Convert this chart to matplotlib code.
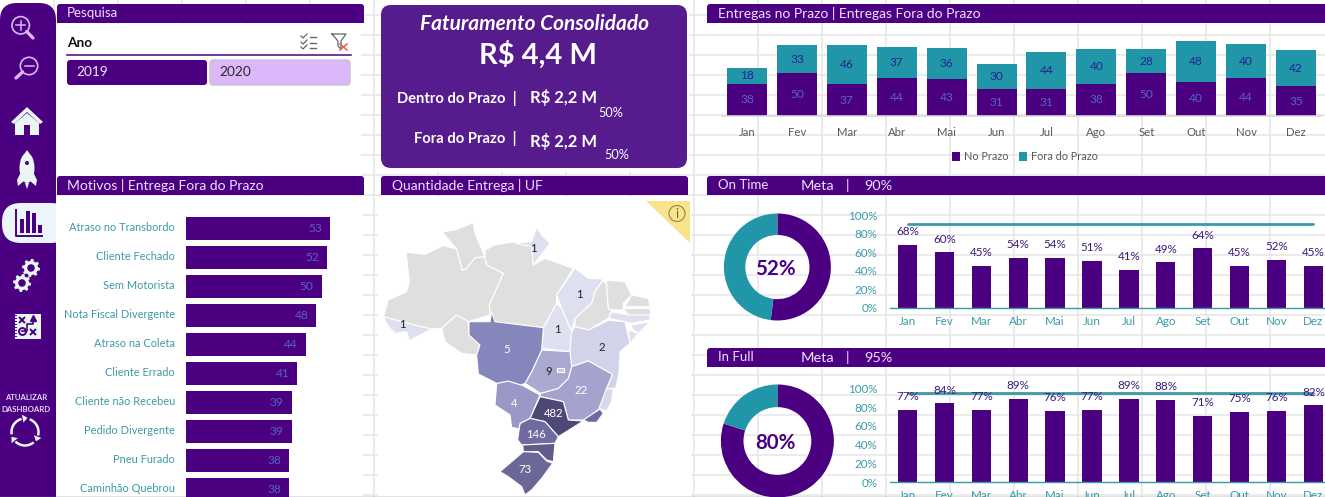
import numpy as np
import matplotlib
matplotlib.use("Agg")
import matplotlib.pyplot as plt
from matplotlib.patches import Arc, Circle, Ellipse, FancyBboxPatch, Polygon, Rectangle
from matplotlib.lines import Line2D

plt.rcParams["font.family"] = ["Lato", "DejaVu Sans"]

# ---- data -------------------------------------------------------------
months = ["Jan", "Fev", "Mar", "Abr", "Mai", "Jun", "Jul", "Ago", "Set", "Out", "Nov", "Dez"]
no_prazo = [38, 50, 37, 44, 43, 31, 31, 38, 50, 40, 44, 35]
fora_prazo = [18, 33, 46, 37, 36, 30, 44, 40, 28, 48, 40, 42]

motivos = ["Atraso no Transbordo", "Cliente Fechado", "Sem Motorista", "Nota Fiscal Divergente",
           "Atraso na Coleta", "Cliente Errado", "Cliente não Recebeu", "Pedido Divergente",
           "Pneu Furado", "Caminhão Quebrou"]
motivos_qtd = [53, 52, 50, 48, 44, 41, 39, 39, 38, 38]
motivos_pct = ["11,99%", "11,76%", "11,31%", "10,86%", "9,95%", "9,28%", "8,82%", "8,82%", "8,60%", "8,60%"]

on_time = [68, 60, 45, 54, 54, 51, 41, 49, 64, 45, 52, 45]
on_time_meta = 90
on_time_total = 52
in_full = [77, 84, 77, 89, 76, 77, 89, 88, 71, 75, 76, 82]
in_full_meta = 95
in_full_total = 80
pct_ticks = [0, 20, 40, 60, 80, 100]

# Simplified state outlines on a 960x966 drawing grid: colour, label, label position, shape
GREY = "#DFDFDF"
states = [
    ("#DEDFEF", "1", (82, 448), [(25, 425), (100, 445), (170, 462), (103, 497), (95, 470), (60, 475), (40, 455)]),
    (GREY, "", None, [(25, 425), (40, 375), (95, 350), (103, 320), (93, 232), (150, 238), (205, 212), (245, 222),
                      (262, 285), (275, 280), (300, 248), (330, 245), (335, 270), (385, 295), (343, 390), (345, 420),
                      (280, 440), (245, 420), (200, 460), (170, 462), (100, 445)]),
    (GREY, "", None, [(205, 170), (240, 165), (295, 143), (300, 175), (330, 245), (300, 248), (275, 280), (262, 285),
                      (245, 222), (205, 175)]),
    (GREY, "", None, [(200, 460), (245, 420), (280, 440), (282, 480), (315, 510), (305, 540), (260, 535), (210, 500)]),
    (GREY, "", None, [(330, 245), (330, 225), (360, 210), (420, 200), (470, 215), (475, 270), (510, 250), (595, 280),
                      (545, 360), (545, 385), (505, 458), (360, 440), (345, 420), (343, 390), (385, 295), (335, 270)]),
    ("#DEDFEF", "1", (474, 220), [(420, 205), (470, 200), (485, 157), (500, 180), (525, 205), (475, 270), (470, 215)]),
    ("#DEDFEF", "1", (613, 358), [(600, 280), (640, 310), (685, 312), (660, 350), (650, 385), (600, 430), (590, 470),
                                  (560, 400), (545, 360)]),
    ("#E0E1F0", "1", (548, 463), [(545, 385), (560, 400), (590, 470), (585, 530), (500, 520), (505, 458)]),
    (GREY, "", None, [(685, 315), (695, 330), (700, 400), (710, 405), (700, 430), (640, 465), (600, 455), (600, 430),
                      (650, 385), (660, 350)]),
    (GREY, "", None, [(695, 315), (750, 320), (770, 360), (745, 385), (745, 405), (710, 405), (700, 400), (695, 330)]),
    (GREY, "", None, [(770, 360), (820, 370), (825, 395), (750, 395)]),
    (GREY, "", None, [(745, 400), (825, 400), (825, 420), (760, 420)]),
    ("#DEDFEF", "", None, [(710, 410), (760, 420), (825, 420), (825, 435), (770, 445), (750, 440), (700, 430)]),
    ("#DEDFEF", "", None, [(770, 450), (825, 440), (790, 475), (770, 460)]),
    (GREY, "", None, [(760, 465), (790, 475), (765, 505)]),
    ("#D2D3E8", "2", (680, 517), [(590, 470), (600, 455), (640, 465), (700, 436), (750, 440), (765, 505), (735, 530),
                                  (732, 595), (722, 640), (695, 640), (712, 598), (640, 558), (590, 575), (585, 530)]),
    ("#A3A3CE", "22", (618, 647), [(590, 575), (640, 558), (712, 598), (695, 640), (675, 700), (630, 735), (580, 735),
                                   (565, 680), (495, 665), (497, 655), (550, 640), (580, 610)]),
    ("#A9A9D2", "9", (520, 590), [(500, 525), (585, 530), (590, 575), (580, 610), (550, 640), (497, 655), (450, 625),
                                  (470, 590)]),
    ("#C9CAE4", "", None, [(545, 580), (568, 580), (568, 592), (545, 592)]),
    ("#D8D9EC", "", None, [(695, 640), (715, 642), (710, 680), (695, 708), (672, 700)]),
    ("#6B6BA3", "", None, [(625, 735), (675, 702), (685, 715), (665, 742), (640, 742)]),
    ("#4E4877", "482", (537, 715), [(495, 665), (565, 680), (580, 735), (625, 738), (550, 785), (510, 740), (465, 730)]),
    ("#6F6BA0", "146", (482, 778), [(465, 730), (510, 740), (550, 785), (540, 805), (440, 810), (428, 795), (435, 745)]),
    ("#5F5B8B", "", None, [(443, 810), (540, 805), (535, 860), (515, 855), (490, 830), (445, 830)]),
    ("#6B6897", "73", (451, 883), [(445, 830), (490, 832), (515, 858), (533, 865), (500, 910), (470, 945), (450, 960),
                                   (440, 935), (400, 905), (375, 890)]),
    ("#9A98C6", "4", (418, 685), [(365, 625), (400, 618), (440, 630), (495, 660), (465, 730), (435, 745), (432, 762),
                                  (410, 757), (405, 720), (360, 690)]),
    ("#8586BC", "5", (395, 523), [(282, 440), (345, 440), (350, 410), (360, 440), (505, 458), (500, 525), (470, 590),
                                  (450, 625), (438, 630), (400, 618), (365, 625), (310, 597), (305, 540), (315, 510),
                                  (282, 480)]),
]
dark_labels = {"1", "2", "9"}

# ---- palette ----------------------------------------------------------
INDIGO = "#4B0082"
CARD = "#561B8C"
TEAL = "#2196A9"
TEAL_TXT = "#3C9AA6"
GRID = "#E5E5E5"
ICON = "#EAF6F4"
LILAC = "#DCB8FB"
HEAD_TXT = "#F3DFFF"

W, H = 1325, 497
fig = plt.figure(figsize=(W / 100, H / 100), dpi=100, facecolor="white")
base = fig.add_axes([0, 0, 1, 1], zorder=0)
base.set_xlim(0, W)
base.set_ylim(H, 0)
base.axis("off")


def px_axes(x0, y0, x1, y1, z=2):
    """Axes placed by pixel box, measured from the top-left corner."""
    ax = fig.add_axes([x0 / W, 1 - y1 / H, (x1 - x0) / W, (y1 - y0) / H], zorder=z)
    ax.patch.set_alpha(0)
    return ax


def txt(x, y, s, size, color="white", ha="left", weight="normal", style="normal", ax=base, z=5):
    return ax.text(x, y, s, fontsize=size, color=color, ha=ha, va="center",
                   fontweight=weight, fontstyle=style, zorder=z)


def rbox(x0, y0, x1, y1, r, fc, ec="none", lw=0, z=3):
    base.add_patch(FancyBboxPatch((x0 + r, y0 + r), x1 - x0 - 2 * r, y1 - y0 - 2 * r,
                                  boxstyle=f"round,pad={r},rounding_size={r}",
                                  fc=fc, ec=ec, lw=lw, zorder=z))


def header(x0, y0, x1, y1, parts, size=9.5):
    rbox(x0, y0, x1, y1, 3, INDIGO)
    base.add_patch(Rectangle((x0, y0 + 8), x1 - x0, y1 - y0 - 8, fc=INDIGO, ec="none", zorder=3))
    for x, s in parts:
        txt(x, (y0 + y1) / 2 - 0.5, s, size, HEAD_TXT)


# ---- worksheet cell lines ---------------------------------------------
for gx in range(54, W, 64):
    base.plot([gx, gx], [0, H], color=GRID, lw=1.1, zorder=0)
for gy in range(15, H, 20):
    base.plot([0, W], [gy, gy], color=GRID, lw=1.1, zorder=0)

# White backing behind the slicer, the reason list and the map
for x0, y0, x1, y1 in [(56, 24, 361, 176), (56, 196, 363, 497), (378, 197, 691, 497), (381, 0, 689, 172)]:
    base.add_patch(Rectangle((x0, y0), x1 - x0, y1 - y0, fc="white", ec="none", zorder=1))

# ---- navigation bar ---------------------------------------------------
rbox(0, 3, 56, 530, 17, INDIGO, z=3)

for cx, cy, hx, hy, plus in [(20.7, 25.3, 33, 38, True), (29, 66, 16, 78, False)]:
    base.add_patch(Circle((cx, cy), 8.7, fc="none", ec="#D9B9F2", lw=1.2, zorder=4))
    ux, uy = (hx - cx) / np.hypot(hx - cx, hy - cy), (hy - cy) / np.hypot(hx - cx, hy - cy)
    base.plot([cx + ux * 8.7, hx], [cy + uy * 8.7, hy], color="#D9B9F2", lw=2.4, solid_capstyle="round", zorder=4)
    base.plot([cx - 4.5, cx + 4.5], [cy, cy], color="#D9B9F2", lw=1.1, zorder=4)
    if plus:
        base.plot([cx, cx], [cy - 4.5, cy + 4.5], color="#D9B9F2", lw=1.1, zorder=4)

# home
base.add_patch(Polygon([(11, 122), (27, 107), (43, 122), (40, 124), (27, 112), (14, 124)], fc=ICON, zorder=4))
base.add_patch(Polygon([(15, 123), (27, 113), (39, 123), (39, 135), (30, 135), (30, 125), (24, 125), (24, 135), (15, 135)],
                       fc=ICON, zorder=4))
# rocket
base.add_patch(Ellipse((27, 168), 15, 30, fc=ICON, zorder=4))
base.add_patch(Polygon([(23, 156), (27, 150), (31, 156)], fc=ICON, zorder=4))
base.add_patch(Polygon([(21, 172), (17, 180), (18, 186), (24, 181)], fc=ICON, zorder=4))
base.add_patch(Polygon([(33, 172), (37, 180), (36, 186), (30, 181)], fc=ICON, zorder=4))
base.add_patch(Polygon([(25, 183), (29, 183), (27, 189)], fc=ICON, zorder=4))
base.add_patch(Circle((27, 163), 2, fc=INDIGO, zorder=5))
# selected tab with bar icon
rbox(2, 203, 70, 243, 19, "#EAF6FA", z=4)
base.add_patch(Rectangle((56, 200), 20, 50, fc="white", ec="none", zorder=4))
base.plot([15.5, 15.5, 42], [210, 236, 236], color=INDIGO, lw=1.4, zorder=5)
for bx, bt in zip([19.5, 25.5, 31.5, 37.5], [219, 211, 213, 225]):
    base.add_patch(Rectangle((bx, bt), 4, 233 - bt, fc=INDIGO, zorder=5))


def gear(cx, cy, r):
    ang = np.linspace(0, 2 * np.pi, 65)[:-1]
    rad = np.where((np.arange(64) // 4) % 2 == 0, r, r * 0.78)
    base.add_patch(Polygon(np.c_[cx + rad * np.cos(ang), cy + rad * np.sin(ang)], fc=ICON, zorder=4))
    base.add_patch(Circle((cx, cy), r * 0.42, fc=INDIGO, zorder=5))


gear(31, 268, 9)
gear(22, 283, 9)

# calculator-style sheet icon
base.add_patch(Rectangle((15, 314), 26, 25, fc=ICON, zorder=4))
for y in range(315, 339, 3):
    base.plot([14, 16], [y, y], color=INDIGO, lw=0.7, zorder=5)
base.plot([22, 27, 27, 33, 33], [331, 331, 324, 324, 319], color=INDIGO, lw=1.2, zorder=5)
for mx, my, mk in [(22, 320, "x"), (33, 332, "x"), (22, 331, "o")]:
    base.plot([mx], [my], marker=mk, ms=5, mfc="none", mec=INDIGO, mew=1.4, zorder=5)
base.plot([33], [318], marker="^", ms=4, color=INDIGO, zorder=5)

txt(26, 398, "ATUALIZAR", 5.6, "#E7D6F5", ha="center", weight="bold")
txt(26, 409, "DASHBOARD", 5.6, "#E7D6F5", ha="center", weight="bold")
for start in (-70, 50, 170):
    base.add_patch(Arc((25, 432), 27, 27, theta1=start, theta2=start + 85, color=ICON, lw=1.8, zorder=4))
    a = np.deg2rad(start + 90)
    hx, hy = 25 + 13.5 * np.cos(a), 432 + 13.5 * np.sin(a)
    t = np.array([-np.sin(a), np.cos(a)])
    n = np.array([np.cos(a), np.sin(a)])
    base.add_patch(Polygon([(hx + 5 * t[0], hy + 5 * t[1]),
                            (hx + 4 * n[0], hy + 4 * n[1]),
                            (hx - 4 * n[0], hy - 4 * n[1])], fc=ICON, zorder=4))

# ---- slicer -----------------------------------------------------------
header(57, 4, 364, 23, [(67, "Pesquisa")])
txt(67, 43, "Ano", 9.8, "#111111", weight="bold")
base.plot([67, 351], [55, 55], color=INDIGO, lw=1.1, zorder=3)
rbox(67, 60, 207, 85, 3, INDIGO)
rbox(210, 60, 350, 85, 3, LILAC, ec="#C9C4CF", lw=1)
txt(76, 72.5, "2019", 9.8, "#F3E8FC")
txt(219, 72.5, "2020", 9.8, "#2A2A2A")
for y in (37, 43, 48):
    base.plot([310, 316], [y, y], color="#666666", lw=1, zorder=3)
    base.plot([301, 303, 307], [y - 1, y + 1, y - 3], color="#666666", lw=0.9, zorder=3)
base.plot([332, 346, 341, 341, 338, 338, 332], [34, 34, 41, 49, 46, 41, 34], color="#666666", lw=0.9, zorder=3)
base.plot([340, 347], [44, 50], color="#E0604C", lw=1.1, zorder=3)
base.plot([347, 340], [44, 50], color="#E0604C", lw=1.1, zorder=3)

# ---- reasons for late delivery -----------------------------------------
header(57, 176, 364, 195, [(67, "Motivos | Entrega Fora do Prazo")], size=10)
PX_PER_UNIT = 2.717
mot = px_axes(186, 214, 363, 497)
mot.barh(range(len(motivos)), motivos_qtd, height=0.79, color=INDIGO)
mot.set_xlim(0, 177 / PX_PER_UNIT)
mot.set_ylim(-0.5 + 283 / 29, -0.5)
mot.axis("off")
for i, (name, qtd, pct) in enumerate(zip(motivos, motivos_qtd, motivos_pct)):
    yy = 227.5 + 29 * i
    txt(175, yy, name, 7.9, TEAL_TXT, ha="right")
    txt(194, yy + 0.5, pct, 8.6, "white", z=6)
    mot.text(qtd - 3, i, str(qtd), fontsize=8.6, color="#5464C0", ha="right", va="center", zorder=6, clip_on=True)

# ---- revenue card -----------------------------------------------------
rbox(381, 5, 687, 168, 10, CARD)
txt(534, 24, "Faturamento Consolidado", 15, "white", ha="center", weight="bold", style="italic")
txt(538, 55, "R$ 4,4 M", 21, "white", ha="center", weight="bold")
txt(517, 99, "Dentro do Prazo  |", 10.6, "white", ha="right", weight="bold")
txt(530, 97, "R$ 2,2 M", 12, "white", weight="bold")
txt(598, 113, "50%", 9.2, "white")
txt(517, 138, "Fora do Prazo  |", 10.6, "white", ha="right", weight="bold")
txt(530, 142, "R$ 2,2 M", 12, "white", weight="bold")
txt(604, 155, "50%", 9.2, "white")

# ---- map --------------------------------------------------------------
header(381, 176, 688, 195, [(392, "Quantidade Entrega | UF")], size=10)
for color, label, pos, shape in states:
    pts = [(375 + x / 3, 175 + y / 3) for x, y in shape]
    base.add_patch(Polygon(pts, closed=True, fc=color, ec="white", lw=0.8, joinstyle="round", zorder=2))
    if label:
        tc = "#222222" if label in dark_labels else "white"
        txt(375 + pos[0] / 3, 175 + pos[1] / 3, label, 8.2, tc, ha="center", z=4)
base.add_patch(Polygon([(646, 201), (690, 201), (690, 243)], fc="#FBE38E", ec="none", zorder=2))
base.add_patch(Circle((677, 213.5), 8, fc="none", ec="#8F8450", lw=0.8, zorder=3))
txt(677, 213.5, "i", 9, "#6B6233", ha="center", z=4)

# ---- monthly delivery stack --------------------------------------------
header(707, 4, 1340, 23, [(718, "Entregas no Prazo | Entregas Fora do Prazo")], size=10)
ent = px_axes(722, 30, 1321, 116)
xs = np.arange(12)
b1 = ent.bar(xs, no_prazo, width=40 / 49.9, color=INDIGO, label="No Prazo")
b2 = ent.bar(xs, fora_prazo, width=40 / 49.9, bottom=no_prazo, color=TEAL, label="Fora do Prazo")
ent.set_xlim(-0.5, 11.5)
ent.set_ylim(0, 86 / 0.855)
ent.set_xticks(xs, months)
ent.set_yticks([])
ent.tick_params(axis="x", length=0, pad=8, labelsize=8.2, labelcolor="#595959")
for s in ("top", "left", "right"):
    ent.spines[s].set_visible(False)
ent.spines["bottom"].set_color("#D9D9D9")
ent.spines["bottom"].set_linewidth(1.2)
for i, (a, b) in enumerate(zip(no_prazo, fora_prazo)):
    ent.text(i, a / 2, str(a), ha="center", va="center", fontsize=8.6, color="#5566C4")
    ent.text(i, a + b / 2, str(b), ha="center", va="center", fontsize=8.6, color="#23238C")
fig.legend(handles=[b1, b2], loc="center", bbox_to_anchor=(1025 / W, 1 - 157 / H), ncol=2, frameon=False,
           fontsize=7.8, labelcolor="#595959", handlelength=0.7, handleheight=0.9, handletextpad=0.4,
           columnspacing=1.0, borderpad=0)


# ---- on time / in full -------------------------------------------------
def kpi_block(head_y, title, meta, total, values, base_y, top_y, cy, radius):
    header(707, head_y, 1340, head_y + 19, [(718, title)])
    for x, s in [(801, "Meta"), (846, "|"), (864, f"{meta}%")]:
        txt(x, head_y + 9.5, s, 10.4, HEAD_TXT)
    don = px_axes(777.4 - radius, cy - radius, 777.4 + radius, cy + radius)
    don.pie([total, 100 - total], colors=[INDIGO, TEAL], startangle=90, counterclock=False, radius=1,
            wedgeprops={"width": 0.4, "linewidth": 0})
    don.set_xlim(-1, 1)
    don.set_ylim(-1, 1)
    txt(775.5, cy + 2, f"{total}%", 14.8, INDIGO, ha="center", weight="bold", z=6)

    ax = px_axes(890, top_y, 1325, base_y)
    ax.bar(xs, values, width=19.3 / 36.9, color=INDIGO)
    ax.plot(xs, [meta] * 12, color=TEAL_TXT, lw=2, solid_capstyle="round", zorder=4)
    ax.set_xlim((890 - 907.5) / 36.9, (1325 - 907.5) / 36.9)
    ax.set_ylim(0, 100)
    ax.set_xticks(xs, months)
    ax.set_yticks(pct_ticks, [f"{p}%" for p in pct_ticks])
    ax.tick_params(axis="both", length=0, labelsize=8.4, labelcolor=TEAL_TXT)
    ax.tick_params(axis="x", pad=5.5)
    ax.tick_params(axis="y", pad=9)
    for s in ("top", "left", "right"):
        ax.spines[s].set_visible(False)
    ax.spines["bottom"].set_color(TEAL_TXT)
    ax.spines["bottom"].set_linewidth(1)
    for i, v in enumerate(values):
        ax.annotate(f"{v}%", (i, v), xytext=(0, 9.5), textcoords="offset points", ha="center", va="center",
                    fontsize=8.4, color="#3A1A78", zorder=6, annotation_clip=False)


kpi_block(176, "On Time", on_time_meta, on_time_total, on_time, 308, 215, 267, 53.5)
kpi_block(348, "In Full", in_full_meta, in_full_total, in_full, 482.3, 388.3, 441, 56.5)

# Window edge along the bottom of the sheet
fig.add_artist(Line2D([0, 1], [0.5 / H, 0.5 / H], color="#6E6E6E", lw=1))

fig.savefig("out.png", dpi=100, facecolor="white")
